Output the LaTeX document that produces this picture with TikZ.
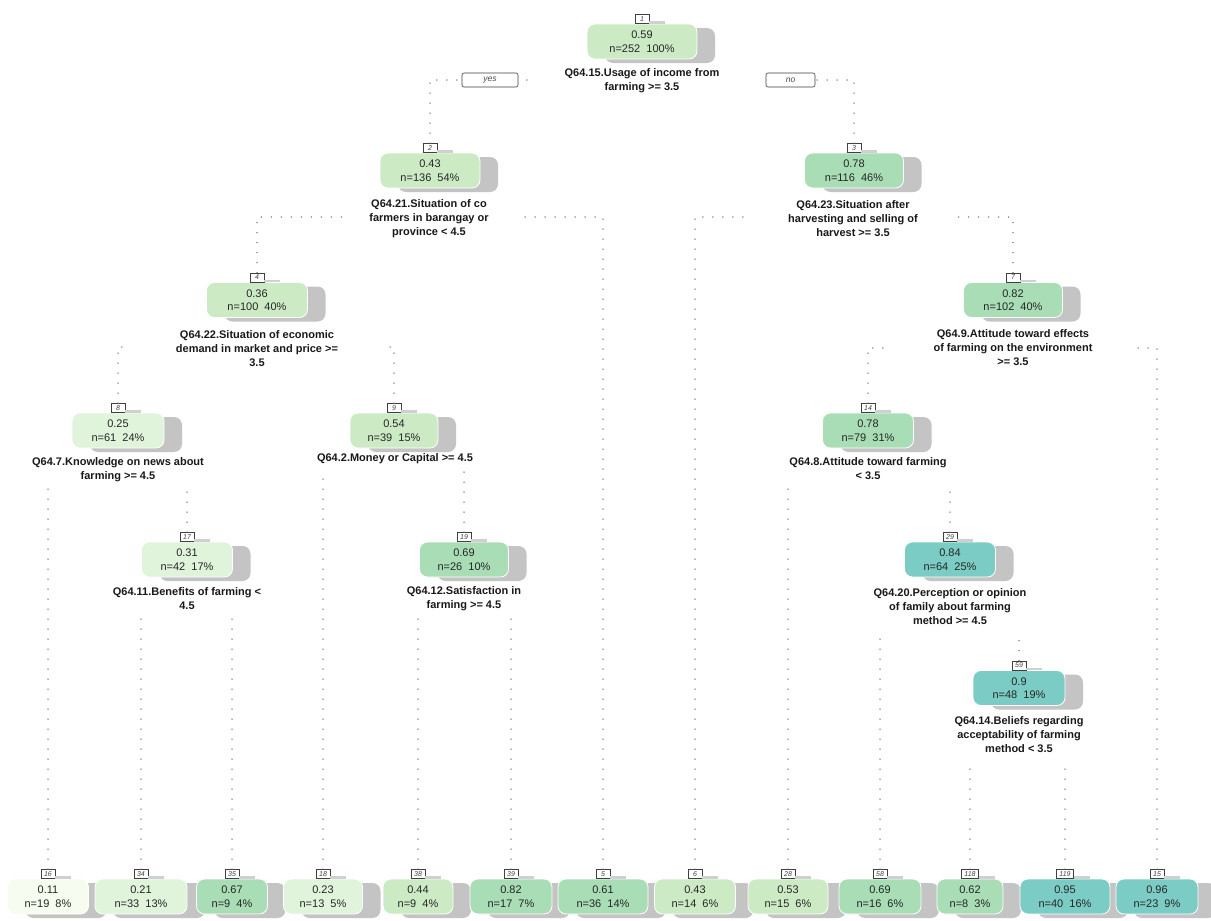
\documentclass[tikz,border=0pt]{standalone}
\usepackage{fontspec}
\setmainfont{Liberation Sans}
\usetikzlibrary{shadows}
\definecolor{cA}{HTML}{F7FCF0}
\definecolor{cB}{HTML}{E0F3DB}
\definecolor{cC}{HTML}{CCEBC5}
\definecolor{cD}{HTML}{A8DDB5}
\definecolor{cE}{HTML}{7BCCC4}
\definecolor{shad}{HTML}{C4C4C4}
\tikzset{
 nbox/.style={rounded corners=8pt, draw=white, line width=0.8pt, align=center,
   text=black!85, font=\fontsize{11}{13.5}\selectfont, minimum height=35pt, inner sep=0pt,
   drop shadow={shadow xshift=18pt, shadow yshift=-4pt, fill=shad, opacity=1}},
 numbox/.style={draw=black!75, fill=white, line width=0.5pt,
   font=\fontsize{7}{8}\selectfont\itshape, text=black!75, inner xsep=3pt, inner ysep=0pt,
   minimum width=14pt, minimum height=9pt},
 numshadow/.style={fill=shad!80},
 split/.style={align=center, font=\fontsize{11}{14}\selectfont\bfseries, text=black!90, inner sep=1pt},
 yesbox/.style={draw=black!75, fill=white, rounded corners=2pt, line width=0.6pt,
   font=\fontsize{8.5}{9}\selectfont\itshape, text=black!70, minimum height=14pt, inner sep=0pt},
 conn/.style={draw=black!60, line width=1.5pt, dash pattern=on 0pt off 10pt, line cap=round}
}
\newcommand\tnode[7]{%
 \node[nbox, fill=#5, minimum width=#4pt] (#1) at (#2,#3) {#6};
 \node[numbox, anchor=south] (#1n) at (#1.north) {#7};
 \fill[numshadow] (#1n.south east) rectangle ++(16,-2.5);
}
\begin{document}
\begin{tikzpicture}[x=1pt,y=-1pt]
\useasboundingbox[fill=white] (0,0) rectangle (1211,921);
% internal nodes
\tnode{n1}{642}{41.5}{110}{cC}{0.59\\n=252\ \ 100\%}{1}
\tnode{n2}{430}{170.5}{100}{cC}{0.43\\n=136\ \ 54\%}{2}
\tnode{n3}{854}{170.5}{99}{cD}{0.78\\n=116\ \ 46\%}{3}
\tnode{n4}{257}{300}{101}{cC}{0.36\\n=100\ \ 40\%}{4}
\tnode{n7}{1013}{300}{99}{cD}{0.82\\n=102\ \ 40\%}{7}
\tnode{n8}{118}{430.5}{92}{cB}{0.25\\n=61\ \ 24\%}{8}
\tnode{n9}{394}{430.5}{88}{cC}{0.54\\n=39\ \ 15\%}{9}
\tnode{n14}{868}{430.5}{91}{cD}{0.78\\n=79\ \ 31\%}{14}
\tnode{n17}{187}{559.5}{91}{cB}{0.31\\n=42\ \ 17\%}{17}
\tnode{n19}{464}{559.5}{89}{cD}{0.69\\n=26\ \ 10\%}{19}
\tnode{n29}{950}{559.5}{91}{cE}{0.84\\n=64\ \ 25\%}{29}
\tnode{n59}{1019}{688}{92}{cE}{0.9\\n=48\ \ 19\%}{59}
% leaves
\tnode{l16}{48}{896.5}{81}{cA}{0.11\\n=19\ \ 8\%}{16}
\tnode{l34}{141}{896.5}{92}{cB}{0.21\\n=33\ \ 13\%}{34}
\tnode{l35}{232}{896.5}{71}{cD}{0.67\\n=9\ \ 4\%}{35}
\tnode{l18}{323}{896.5}{79}{cB}{0.23\\n=13\ \ 5\%}{18}
\tnode{l38}{418}{896.5}{70}{cC}{0.44\\n=9\ \ 4\%}{38}
\tnode{l39}{511}{896.5}{82}{cD}{0.82\\n=17\ \ 7\%}{39}
\tnode{l5}{603}{896.5}{90}{cD}{0.61\\n=36\ \ 14\%}{5}
\tnode{l6}{695}{896.5}{81}{cC}{0.43\\n=14\ \ 6\%}{6}
\tnode{l28}{788}{896.5}{80}{cC}{0.53\\n=15\ \ 6\%}{28}
\tnode{l58}{880}{896.5}{82}{cD}{0.69\\n=16\ \ 6\%}{58}
\tnode{l118}{970}{896.5}{66}{cD}{0.62\\n=8\ \ 3\%}{118}
\tnode{l119}{1065}{896.5}{90}{cE}{0.95\\n=40\ \ 16\%}{119}
\tnode{l15}{1157}{896.5}{82}{cE}{0.96\\n=23\ \ 9\%}{15}
% split labels
\node[split] (s1) at (642,81) {Q64.15.Usage of income from\\farming >= 3.5};
\node[split] (s2) at (429,218.5) {Q64.21.Situation of co\\farmers in barangay or\\province < 4.5};
\node[split] (s3) at (853,219) {Q64.23.Situation after\\harvesting and selling of\\harvest >= 3.5};
\node[split] (s4) at (257,348.5) {Q64.22.Situation of economic\\demand in market and price >=\\3.5};
\node[split] (s7) at (1013,348) {Q64.9.Attitude toward effects\\of farming on the environment\\>= 3.5};
\node[split] (s8) at (118,469.5) {Q64.7.Knowledge on news about\\farming >= 4.5};
\node[split] (s9) at (395,459) {Q64.2.Money or Capital >= 4.5};
\node[split] (s14) at (868,469) {Q64.8.Attitude toward farming\\< 3.5};
\node[split] (s17) at (187,598.5) {Q64.11.Benefits of farming <\\4.5};
\node[split] (s19) at (464,598.5) {Q64.12.Satisfaction in\\farming >= 4.5};
\node[split] (s29) at (950,607) {Q64.20.Perception or opinion\\of family about farming\\method >= 4.5};
\node[split] (s59) at (1019,735) {Q64.14.Beliefs regarding\\acceptability of farming\\method < 3.5};
% free ends of connectors
\coordinate (e1L) at (527,80);  \coordinate (e1R) at (760,80);
\coordinate (e2L) at (350,217); \coordinate (e2R) at (525,217);
\coordinate (e3L) at (750,217); \coordinate (e3R) at (952,217);
\coordinate (e4L) at (128,347); \coordinate (e4R) at (384,347);
\coordinate (e8L) at (48,488);  \coordinate (e8R) at (187,488);
\coordinate (e9L) at (323,470); \coordinate (e9R) at (464,470);
\coordinate (e17L) at (141,613); \coordinate (e17R) at (232,613);
\coordinate (e19L) at (418,613); \coordinate (e19R) at (511,613);
\coordinate (e7L) at (890,348); \coordinate (e7R) at (1132,348);
\coordinate (e14L) at (788,488); \coordinate (e14R) at (950,488);
\coordinate (e29L) at (880,635); \coordinate (e29R) at (1019,637);
\coordinate (e59L) at (970,760); \coordinate (e59R) at (1065,760);
% connectors
\draw[conn] (n2n.north) |- (e1L);
\draw[conn] (n3n.north) |- (e1R);
\draw[conn] (n4n.north) |- (e2L);
\draw[conn] (l5n.north) |- (e2R);
\draw[conn] (l6n.north) |- (e3L);
\draw[conn] (n7n.north) |- (e3R);
\draw[conn] (n8n.north) |- (e4L);
\draw[conn] (n9n.north) |- (e4R);
\draw[conn] (l16n.north) -- (e8L);
\draw[conn] (n17n.north) -- (e8R);
\draw[conn] (l18n.north) -- (e9L);
\draw[conn] (n19n.north) -- (e9R);
\draw[conn] (l34n.north) -- (e17L);
\draw[conn] (l35n.north) -- (e17R);
\draw[conn] (l38n.north) -- (e19L);
\draw[conn] (l39n.north) -- (e19R);
\draw[conn] (n14n.north) |- (e7L);
\draw[conn] (l15n.north) |- (e7R);
\draw[conn] (l28n.north) -- (e14L);
\draw[conn] (n29n.north) -- (e14R);
\draw[conn] (l58n.north) -- (e29L);
\draw[conn] (n59n.north) -- (e29R);
\draw[conn] (l118n.north) -- (e59L);
\draw[conn] (l119n.north) -- (e59R);
% yes / no
\node[yesbox, minimum width=56pt] (yes) at (490,80) {yes};
\node[yesbox, minimum width=49pt] (no) at (790.5,80) {no};
\end{tikzpicture}
\end{document}
